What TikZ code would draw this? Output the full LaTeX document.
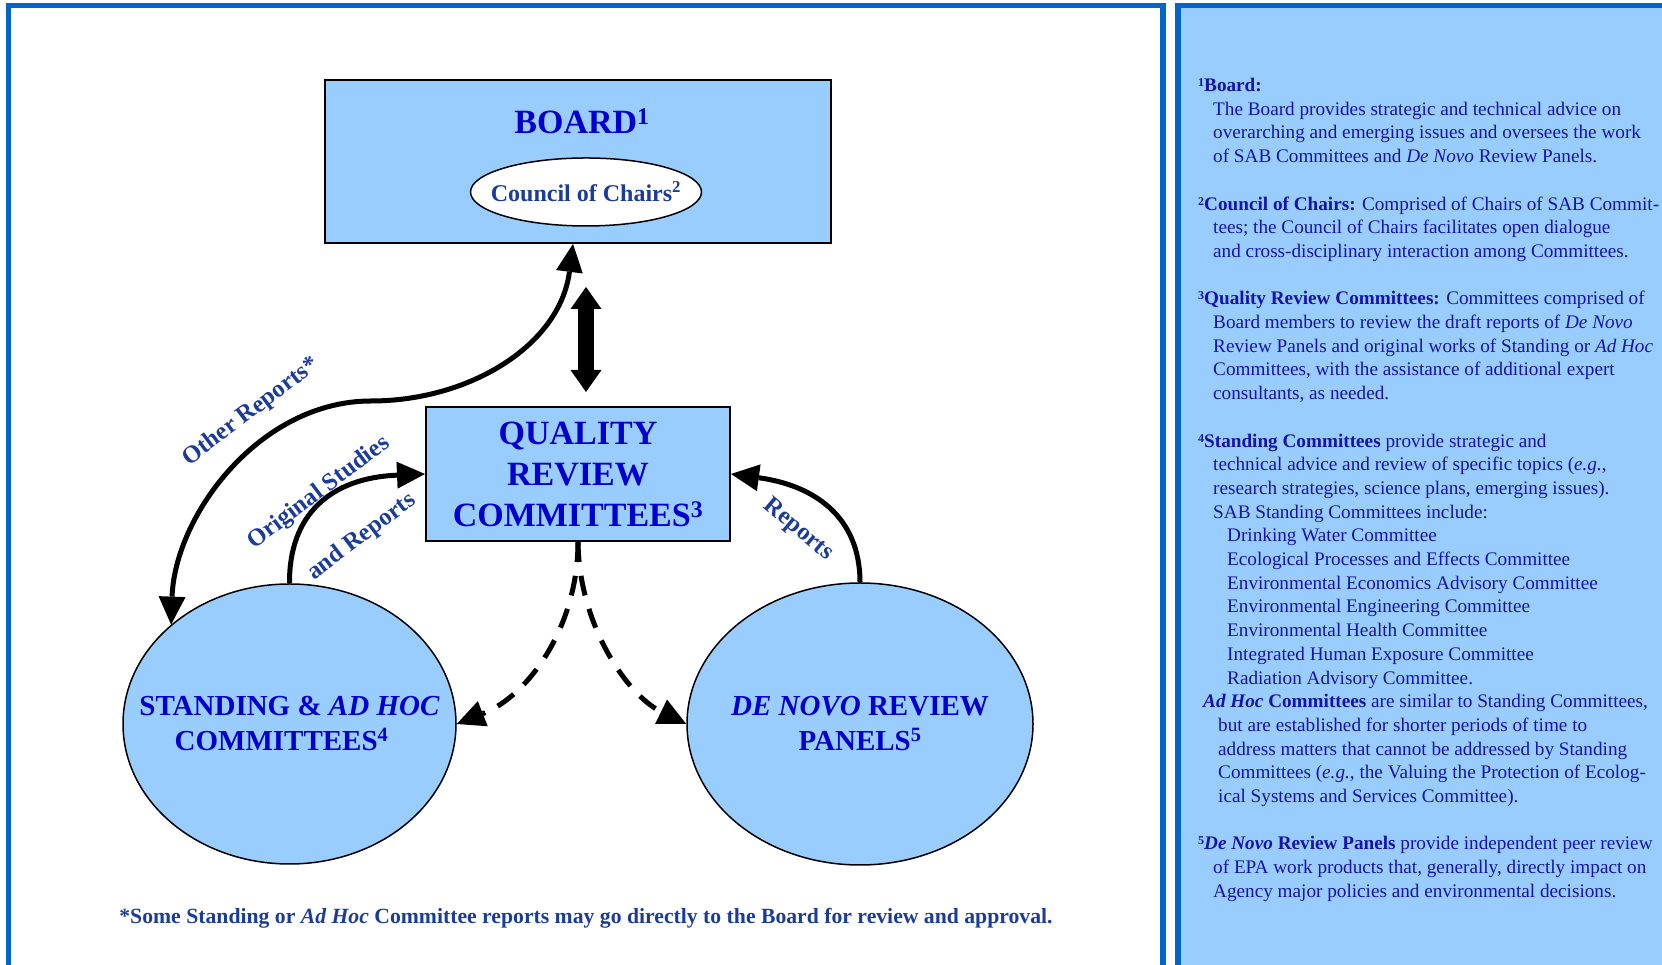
\documentclass[tikz,border=0pt]{standalone}
\usepackage{fontspec}
\setmainfont{Liberation Serif}
\usepackage{tikz}
\usetikzlibrary{positioning, arrows.meta, shapes.geometric}

\definecolor{panelfill}{HTML}{99CCFF}
\definecolor{frameblue}{HTML}{0066CC}
\definecolor{headblue}{HTML}{0000CC}
\definecolor{labelnavy}{HTML}{1B3C99}
\definecolor{notetext}{HTML}{1414AA}

\newcommand{\fnum}[1]{\raisebox{5pt}{\fontsize{12}{12}\selectfont\textbf{#1}}}

\begin{document}
\begin{tikzpicture}[
    x=1pt, y=1pt,
    >={Triangle[length=28pt, width=27pt, line width=0pt]},
    box/.style={rectangle, draw, line width=2pt, fill=panelfill, inner sep=0pt},
    oval/.style={ellipse, draw, line width=1.5pt, fill=panelfill, inner sep=0pt},
    head/.style={text=headblue, align=center, font=\bfseries\fontsize{34}{41}\selectfont},
    lbl/.style={text=labelnavy, font=\bfseries\fontsize{24.5}{28}\selectfont},
    arr/.style={line width=5pt, ->},
    darr/.style={arr, dash pattern=on 20pt off 14pt}
]
    \useasboundingbox (0,0) rectangle (1662,965);
    \clip (0,0) rectangle (1662,965);
    % two panels
    \draw[frameblue, line width=5.5pt] (8.5,-20) rectangle (1163,959.5);
    \draw[frameblue, fill=panelfill, line width=5.5pt] (1178,-20) rectangle (1700,959.5);

    % board with council of chairs
    \node[box, minimum width=506pt, minimum height=163pt] (board) at (578,803.5) {};
    \node[head] (boardtxt) at (582,844) {BOARD\textsuperscript{1}};
    \node[oval, fill=white, minimum width=231pt, minimum height=68pt] (council) at (586,773) {};
    \node[lbl, font=\bfseries\fontsize{24}{28}\selectfont] (counciltxt) at (council) {Council of Chairs\textsuperscript{2}};

    \node[box, head, minimum width=304pt, minimum height=134pt, below=162pt of board] (qrc) {QUALITY\\REVIEW\\COMMITTEES\textsuperscript{3}};

    \node[oval, minimum width=333pt, minimum height=280pt] (stand) at (289.5,241) {};
    \node[head, font=\bfseries\fontsize{29}{35}\selectfont] (standtxt) at (stand) {STANDING \& \textit{AD HOC}\\COMMITTEES\textsuperscript{4}\hspace*{16pt}};
    \node[oval, minimum width=346pt, minimum height=282pt] (novo) at (860,241) {};
    \node[head, font=\bfseries\fontsize{29}{35}\selectfont] (novotxt) at (novo) {\textit{DE NOVO} REVIEW\\PANELS\textsuperscript{5}};

    % connectors
    \draw[line width=16pt, {Triangle[length=22pt, width=31pt, line width=0pt]}-{Triangle[length=22pt, width=31pt, line width=0pt]},
        shorten <=14pt, shorten >=43pt] ([xshift=8pt]qrc.north) -- ([xshift=8pt]board.south);
    \draw[arr, <->] ([xshift=-5pt]board.south) .. controls (560,620) and (470,564) .. (371,564)
        .. controls (260,564) and (175,450) .. (stand.140);
    \draw[arr] (stand.north) .. controls (289,450) and (330,487) .. (qrc.west);
    \draw[arr] (novo.north) .. controls (860,450) and (812,480) .. (qrc.east);
    \draw[darr] (qrc.south) .. controls (578,340) and (530,270) .. (stand.east);
    \draw[darr] (qrc.south) .. controls (579,340) and (627,270) .. (novo.west);

    \node[lbl, rotate=37] (otherlbl) at (251,553) {Other Reports*};
    \node[lbl, rotate=37] (origlbl) at (319,472) {Original Studies};
    \node[lbl, rotate=37] (andlbl) at (362,428) {and Reports};
    \node[lbl, rotate=-40] (replbl) at (798,435) {Reports};

    \node[lbl, font=\bfseries\fontsize{21.7}{25}\selectfont] (footnote) at (586,47)
        {*Some Standing or \textit{Ad Hoc} Committee reports may go directly to the Board for review and approval.};

    % notes panel
    \node[anchor=north west, inner sep=0pt, align=left, text=notetext, font=\fontsize{19.2}{23.7}\selectfont] (notes) at (1198,887) {
        \fnum{1}\textbf{Board:}\\
        \hspace*{15pt}The Board provides strategic and technical advice on\\
        \hspace*{15pt}overarching and emerging issues and oversees the work\\
        \hspace*{15pt}of SAB Committees and \textit{De Novo} Review Panels.\\[23.7pt]
        \fnum{2}\textbf{Council of Chairs:} Comprised of Chairs of SAB Commit-\\
        \hspace*{15pt}tees; the Council of Chairs facilitates open dialogue\\
        \hspace*{15pt}and cross-disciplinary interaction among Committees.\\[23.7pt]
        \fnum{3}\textbf{Quality Review Committees:} Committees comprised of\\
        \hspace*{15pt}Board members to review the draft reports of \textit{De Novo}\\
        \hspace*{15pt}Review Panels and original works of Standing or \textit{Ad Hoc}\\
        \hspace*{15pt}Committees, with the assistance of additional expert\\
        \hspace*{15pt}consultants, as needed.\\[23.7pt]
        \fnum{4}\textbf{Standing Committees} provide strategic and\\
        \hspace*{15pt}technical advice and review of specific topics (\textit{e.g.},\\
        \hspace*{15pt}research strategies, science plans, emerging issues).\\
        \hspace*{15pt}SAB Standing Committees include:\\
        \hspace*{29pt}Drinking Water Committee\\
        \hspace*{29pt}Ecological Processes and Effects Committee\\
        \hspace*{29pt}Environmental Economics Advisory Committee\\
        \hspace*{29pt}Environmental Engineering Committee\\
        \hspace*{29pt}Environmental Health Committee\\
        \hspace*{29pt}Integrated Human Exposure Committee\\
        \hspace*{29pt}Radiation Advisory Committee.\\
        \hspace*{5pt}\textbf{\textit{Ad Hoc} Committees} are similar to Standing Committees,\\
        \hspace*{20pt}but are established for shorter periods of time to\\
        \hspace*{20pt}address matters that cannot be addressed by Standing\\
        \hspace*{20pt}Committees (\textit{e.g.}, the Valuing the Protection of Ecolog-\\
        \hspace*{20pt}ical Systems and Services Committee).\\[23.7pt]
        \fnum{5}\textbf{\textit{De Novo} Review Panels} provide independent peer review\\
        \hspace*{15pt}of EPA work products that, generally, directly impact on\\
        \hspace*{15pt}Agency major policies and environmental decisions.
    };
\end{tikzpicture}
\end{document}
